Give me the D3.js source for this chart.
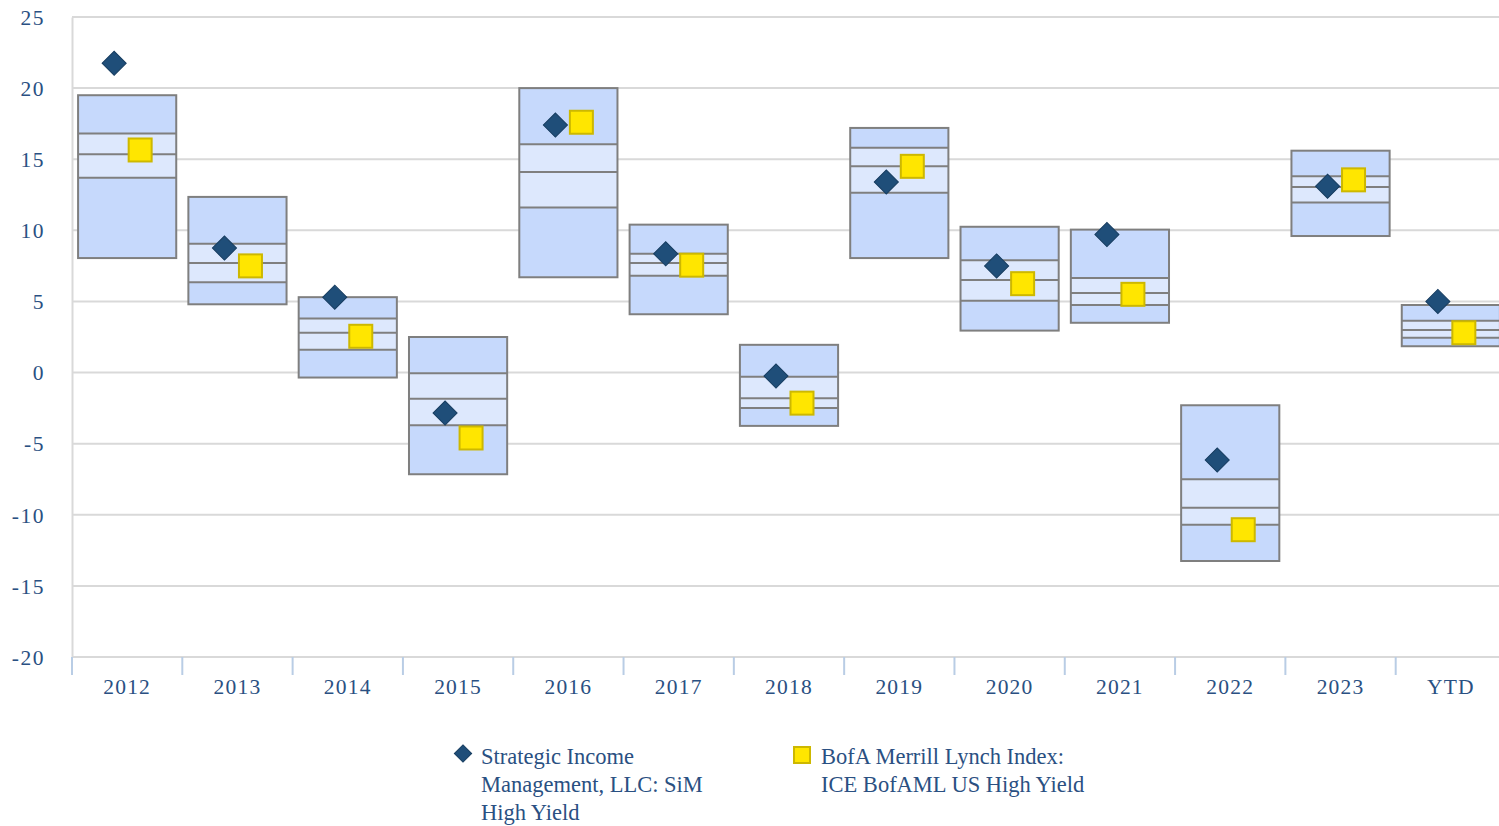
<!DOCTYPE html>
<html>
<head>
<meta charset="utf-8">
<script src="https://cdn.jsdelivr.net/npm/d3@7"></script>
<style>
  body { margin: 0; background: #fff; }
  svg text { font-family: "Liberation Serif", "Times New Roman", serif; fill: #2a5082; }
</style>
</head>
<body>
<div class="container"></div>
<script>
// categories and values
const years = ["2012","2013","2014","2015","2016","2017","2018","2019","2020","2021","2022","2023","YTD"]
const p5  = [19.5, 12.35, 5.3, 2.5, 20.0, 10.4, 1.95, 17.2, 10.25, 10.05, -2.3, 15.6, 4.75]
const p25 = [16.8, 9.05, 3.8, -0.05, 16.05, 8.35, -0.3, 15.8, 7.9, 6.65, -7.5, 13.8, 3.65]
const p50 = [15.35, 7.7, 2.8, -1.85, 14.1, 7.7, -1.8, 14.5, 6.5, 5.6, -9.5, 13.05, 3.0]
const p75 = [13.7, 6.35, 1.6, -3.7, 11.6, 6.8, -2.5, 12.65, 5.05, 4.75, -10.7, 11.95, 2.45]
const p95 = [8.05, 4.8, -0.35, -7.15, 6.7, 4.1, -3.75, 8.05, 2.95, 3.5, -13.25, 9.6, 1.85]
const simHY = [21.75, 8.75, 5.3, -2.85, 17.4, 8.35, -0.25, 13.4, 7.5, 9.7, -6.15, 13.1, 5.0]
const bofa  = [15.65, 7.5, 2.55, -4.6, 17.6, 7.55, -2.15, 14.5, 6.25, 5.5, -11.05, 13.55, 2.8]
const yTicks = [-20, -15, -10, -5, 0, 5, 10, 15, 20, 25]
const legendLabels = [
  ["Strategic Income", "Management, LLC: SiM", "High Yield"],
  ["BofA Merrill Lynch Index:", "ICE BofAML US High Yield"]
]

const w = 1499, h = 826
const padL = 72, padR = 1506, padT = 17, padB = 657

const svg = d3.select(".container").append("svg")
  .attr("width", w).attr("height", h)

const x = d3.scaleBand().domain(years).range([padL, padR]).paddingInner(0).paddingOuter(0)
const y = d3.scaleLinear().domain([-20, 25]).range([padB, padT])

// gridlines
svg.append("g").selectAll("line").data(yTicks).enter().append("line")
  .attr("x1", padL).attr("x2", w)
  .attr("y1", d => y(d)).attr("y2", d => y(d))
  .attr("stroke", "#d9d9d9").attr("stroke-width", 2)

// y axis (plain hyphen for negatives, like the original)
const yAxis = svg.append("g").attr("transform", "translate(" + padL + ",0)")
  .call(d3.axisLeft(y).tickValues(yTicks).tickSize(0).tickPadding(27).tickFormat(d => String(d)))
yAxis.select(".domain").attr("stroke", "#d9d9d9").attr("stroke-width", 2)
yAxis.selectAll("text")
  .attr("font-size", 21.5).attr("font-family", "Liberation Serif")
  .attr("fill", "#2a5082").attr("letter-spacing", 1.5).attr("dy", "0.34em")

// x axis
const xTicks = svg.append("g")
xTicks.selectAll("line").data(years).enter().append("line")
  .attr("x1", d => x(d)).attr("x2", d => x(d))
  .attr("y1", padB).attr("y2", padB + 18)
  .attr("stroke", "#b9cde5").attr("stroke-width", 2)
xTicks.selectAll("text").data(years).enter().append("text")
  .attr("x", d => x(d) + x.bandwidth() / 2)
  .attr("y", padB + 37)
  .attr("text-anchor", "middle")
  .attr("font-size", 21.5)
  .attr("letter-spacing", 1.2)
  .text(d => d)

// boxes
const boxW = x.bandwidth() * 0.89
const boxes = svg.append("g").selectAll("g").data(years).enter().append("g")
  .attr("transform", d => "translate(" + (x(d) + (x.bandwidth() - boxW) / 2) + ",0)")

boxes.append("rect")
  .attr("y", (d, i) => y(p5[i]))
  .attr("width", boxW)
  .attr("height", (d, i) => y(p95[i]) - y(p5[i]))
  .attr("fill", "#c6d9fc")
boxes.append("rect")
  .attr("y", (d, i) => y(p25[i]))
  .attr("width", boxW)
  .attr("height", (d, i) => y(p75[i]) - y(p25[i]))
  .attr("fill", "#dde8fd")
;[p25, p50, p75].forEach(arr => {
  boxes.append("line")
    .attr("x1", 0).attr("x2", boxW)
    .attr("y1", (d, i) => y(arr[i])).attr("y2", (d, i) => y(arr[i]))
    .attr("stroke", "#7f7f7f").attr("stroke-width", 2)
})
boxes.append("rect")
  .attr("y", (d, i) => y(p5[i]))
  .attr("width", boxW)
  .attr("height", (d, i) => y(p95[i]) - y(p5[i]))
  .attr("fill", "none").attr("stroke", "#7f7f7f").attr("stroke-width", 2)

// markers
const diamond = d3.symbol().type(d3.symbolSquare).size(290)
svg.append("g").selectAll("path").data(years).enter().append("path")
  .attr("d", diamond)
  .attr("transform", (d, i) => "translate(" + (x(d) + x.bandwidth() / 2 - 13) + "," + y(simHY[i]) + ") rotate(45)")
  .attr("fill", "#1f4e79").attr("stroke", "#173d60").attr("stroke-width", 1)

const sq = 23
svg.append("g").selectAll("rect").data(years).enter().append("rect")
  .attr("x", d => x(d) + x.bandwidth() / 2 + 13 - sq / 2)
  .attr("y", (d, i) => y(bofa[i]) - sq / 2)
  .attr("width", sq).attr("height", sq)
  .attr("fill", "#ffe600").attr("stroke", "#cdb800").attr("stroke-width", 2)

// legend
const lg = svg.append("g")
lg.append("path").attr("d", d3.symbol().type(d3.symbolSquare).size(150))
  .attr("transform", "translate(463,753.5) rotate(45)")
  .attr("fill", "#1f4e79").attr("stroke", "#173d60")
lg.append("rect").attr("x", 794).attr("y", 747).attr("width", 16).attr("height", 16)
  .attr("fill", "#ffe600").attr("stroke", "#cdb800").attr("stroke-width", 2)
const legX = [481, 821]
legendLabels.forEach((lines, k) => {
  lines.forEach((t, j) => {
    lg.append("text").attr("x", legX[k]).attr("y", 764 + j * 28)
      .attr("font-size", 22.5).text(t)
  })
})
</script>
</body>
</html>
